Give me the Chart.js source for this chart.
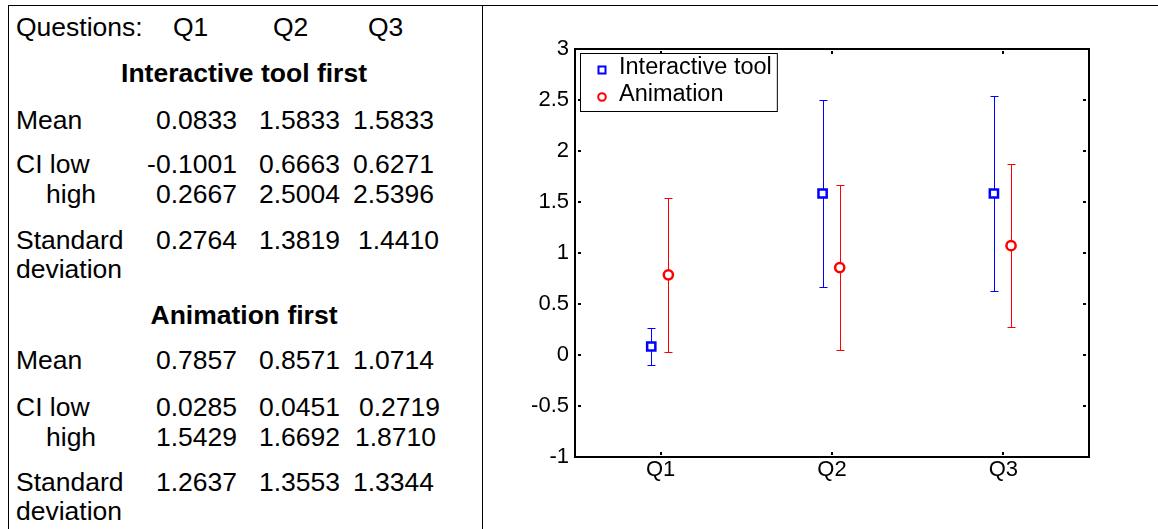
<!DOCTYPE html>
<html><head><meta charset="utf-8">
<script src="https://cdn.jsdelivr.net/npm/chart.js@4/dist/chart.umd.min.js"></script>
<style>
html,body{margin:0;padding:0;background:#fff;}
body{width:1158px;height:529px;position:relative;overflow:hidden;font-family:"Liberation Sans",Arial,sans-serif;color:#000;}
.bl{position:absolute;background:#000;}
.t{position:absolute;font-size:26.5px;line-height:1;white-space:nowrap;transform:translateY(-50%);}
.w{font-size:26.5px;}
.b{font-weight:bold;}
#wrap{position:absolute;left:483px;top:0;width:675px;height:529px;}
</style></head><body>
<div class="bl" style="left:8px;top:5px;width:1150px;height:1px"></div>
<div class="bl" style="left:8px;top:5px;width:1px;height:524px"></div>
<div class="bl" style="left:482px;top:5px;width:1px;height:524px"></div>
<div id="table"></div>
<div id="wrap"><canvas id="c" width="675" height="529"></canvas></div>
<script>
// ---- data ----
const categories = ["Q1", "Q2", "Q3"];
const seriesNames = ["Interactive tool", "Animation"];
const groupTitles = ["Interactive tool first", "Animation first"];
const toolMean = ["0.0833", "1.5833", "1.5833"];
const toolLow  = ["-0.1001", "0.6663", "0.6271"];
const toolHigh = ["0.2667", "2.5004", "2.5396"];
const toolSD   = ["0.2764", "1.3819", "1.4410"];
const animMean = ["0.7857", "0.8571", "1.0714"];
const animLow  = ["0.0285", "0.0451", "0.2719"];
const animHigh = ["1.5429", "1.6692", "1.8710"];
const animSD   = ["1.2637", "1.3553", "1.3344"];
const yTickMin = -1, yTickMax = 3, yTickStep = 0.5;

// ---- table (text) ----
const table = document.getElementById('table');
function put(txt, x, y, cls, right) {
  const s = document.createElement('div');
  s.className = 't ' + (cls || '');
  s.textContent = txt;
  s.style.top = y + 'px';
  if (right) { s.style.right = (1158 - x) + 'px'; } else { s.style.left = x + 'px'; }
  table.appendChild(s);
  return s;
}
function putCenter(txt, cx, y, cls) {
  const s = put(txt, 0, y, cls);
  s.style.left = cx + 'px';
  s.style.transform = 'translate(-50%,-50%)';
}
put('Questions:', 16, 27, 'w');
const qx = [173, 273, 368];
categories.forEach((c, i) => put(c, qx[i], 27, 'w'));
const groups = [
  {title: groupTitles[0], mean: toolMean, low: toolLow, high: toolHigh, sd: toolSD,
   ys: [73, 120, 164, 194, 240, 269], c3: [353, 353, 353, 358]},
  {title: groupTitles[1], mean: animMean, low: animLow, high: animHigh, sd: animSD,
   ys: [315, 360, 407, 437, 482, 511], c3: [353, 359, 355, 353]}
];
groups.forEach(g => {
  putCenter(g.title, 244, g.ys[0], 'b w');
  put('Mean', 16, g.ys[1], 'w');
  put('CI low', 16, g.ys[2], 'w');
  put('high', 46, g.ys[3], 'w');
  put('Standard', 16, g.ys[4], 'w');
  put('deviation', 16, g.ys[5], 'w');
  [g.mean, g.low, g.high, g.sd].forEach((arr, r) => {
    put(arr[0], 237, g.ys[r + 1], '', true);
    put(arr[1], 259, g.ys[r + 1]);
    put(arr[2], g.c3[r], g.ys[r + 1]);
  });
});

// ---- chart ----
const FONT = '"Liberation Sans", Arial, sans-serif';
const offsets = [-0.055, 0.045];
function pts(mean, low, high, k) {
  return categories.map((c, i) => ({x: i + 1 + offsets[k], y: parseFloat(mean[i]), low: parseFloat(low[i]), high: parseFloat(high[i])}));
}
const errorBars = {
  id: 'errorBars',
  beforeDatasetsDraw(chart) {
    const ctx = chart.ctx, xs = chart.scales.x, ys = chart.scales.y;
    ctx.save();
    chart.data.datasets.forEach(ds => {
      ctx.strokeStyle = ds.borderColor; ctx.lineWidth = 1;
      ds.data.forEach(p => {
        const x = Math.round(xs.getPixelForValue(p.x)) + 0.5;
        const yl = Math.round(ys.getPixelForValue(p.low)) + 0.5;
        const yh = Math.round(ys.getPixelForValue(p.high)) + 0.5;
        ctx.beginPath();
        ctx.moveTo(x, yl); ctx.lineTo(x, yh);
        ctx.moveTo(x - 4, yl); ctx.lineTo(x + 4, yl);
        ctx.moveTo(x - 4, yh); ctx.lineTo(x + 4, yh);
        ctx.stroke();
      });
    });
    ctx.restore();
  }
};
const frame = {
  id: 'frame',
  afterDraw(chart) {
    const ctx = chart.ctx, a = chart.chartArea, xs = chart.scales.x, ys = chart.scales.y;
    ctx.save();
    ctx.strokeStyle = '#000'; ctx.lineWidth = 2;
    ctx.strokeRect(a.left, a.top, a.right - a.left, a.bottom - a.top);
    ctx.fillStyle = '#000';
    ys.ticks.forEach(t => {
      const y = Math.round(ys.getPixelForValue(t.value));
      ctx.fillRect(a.left + 3, y - 1, 3, 2);
      ctx.fillRect(a.right - 6, y - 1, 3, 2);
    });
    xs.ticks.forEach(t => {
      const x = Math.round(xs.getPixelForValue(t.value));
      ctx.fillRect(x - 1, a.top + 2, 2, 3);
      ctx.fillRect(x - 1, a.bottom - 5, 2, 3);
    });
    ctx.restore();
  }
};
function drawMarker(ctx, style, x, y, color, r, lw) {
  ctx.save();
  ctx.strokeStyle = color; ctx.fillStyle = '#fff'; ctx.lineWidth = lw;
  ctx.beginPath();
  if (style === 'rect') { ctx.rect(x - r, y - r, 2 * r, 2 * r); }
  else { ctx.arc(x, y, r, 0, Math.PI * 2); }
  ctx.fill(); ctx.stroke();
  ctx.restore();
}
const legendBox = {
  id: 'legendBox',
  afterDraw(chart) {
    const ctx = chart.ctx, a = chart.chartArea;
    ctx.save();
    ctx.font = '23.5px ' + FONT;
    const tw = Math.max(...chart.data.datasets.map(d => ctx.measureText(d.label).width));
    const x0 = a.left + 5, y0 = a.top + 4, w = 39 + tw + 5, h = 58;
    ctx.fillStyle = '#fff';
    ctx.fillRect(x0, y0, w, h);
    ctx.strokeStyle = '#000'; ctx.lineWidth = 1;
    ctx.strokeRect(x0 + 0.5, y0 + 0.5, w, h);
    chart.data.datasets.forEach((d, i) => {
      const cy = y0 + 16 + i * 27;
      drawMarker(ctx, d.pointStyle, x0 + 22, cy + 1, d.borderColor, d.pointStyle === 'rect' ? 3.5 : 3.8, 2);
      ctx.fillStyle = '#000'; ctx.textBaseline = 'middle'; ctx.textAlign = 'left';
      ctx.fillText(d.label, x0 + 39, cy - 1);
    });
    ctx.restore();
  }
};

new Chart(document.getElementById('c'), {
  type: 'scatter',
  data: {
    datasets: [
      {label: seriesNames[0], data: pts(toolMean, toolLow, toolHigh, 0), pointStyle: 'rect', pointRadius: 5.8,
       borderColor: '#0000ff', backgroundColor: '#ffffff', borderWidth: 2.5, pointHoverRadius: 5.8},
      {label: seriesNames[1], data: pts(animMean, animLow, animHigh, 1), pointStyle: 'circle', pointRadius: 4.6,
       borderColor: '#ff0000', backgroundColor: '#ffffff', borderWidth: 2.5, pointHoverRadius: 4.6}
    ]
  },
  options: {
    responsive: false, animation: false, devicePixelRatio: 1,
    layout: {padding: {left: 0, top: 49, right: 69, bottom: 42}},
    plugins: {legend: {display: false}, tooltip: {enabled: false}},
    events: [],
    scales: {
      x: {
        type: 'linear', min: 0.5, max: 3.5,
        afterBuildTicks: s => { s.ticks = categories.map((c, i) => ({value: i + 1})); },
        afterFit: s => { s.height = 30; },
        ticks: {callback: v => categories[Math.round(v) - 1], font: {size: 22, family: FONT}, color: '#000',
                padding: 0, maxRotation: 0, autoSkip: false},
        grid: {display: false, drawTicks: false}, border: {display: false}
      },
      y: {
        min: yTickMin, max: yTickMax,
        afterFit: s => { s.width = 92; },
        ticks: {stepSize: yTickStep, callback: v => String(+v.toFixed(1)), font: {size: 22, family: FONT}, color: '#000', padding: 6},
        grid: {display: false, drawTicks: false}, border: {display: false}
      }
    }
  },
  plugins: [errorBars, frame, legendBox]
});
</script>
</body></html>
